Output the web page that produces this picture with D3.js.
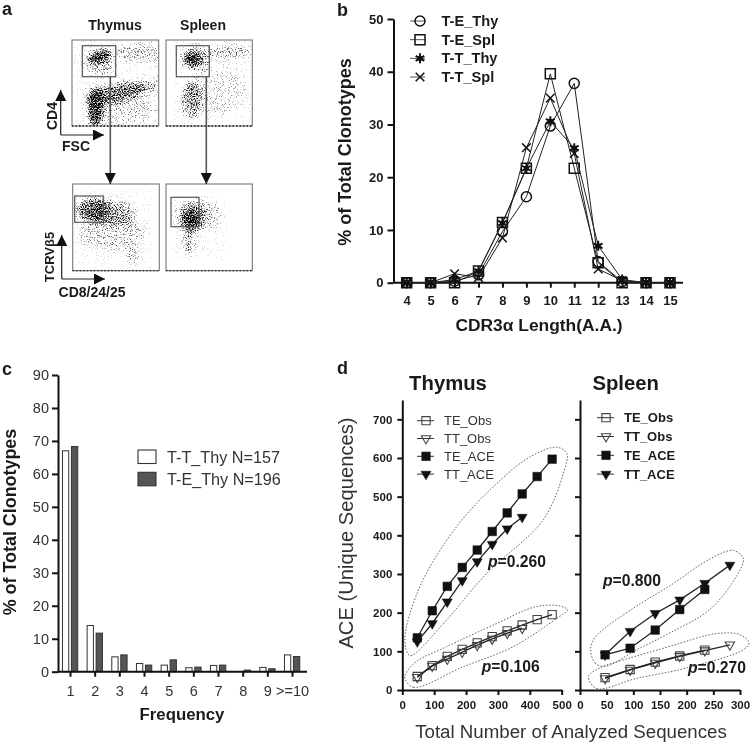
<!DOCTYPE html>
<html><head><meta charset="utf-8">
<script src="https://cdn.jsdelivr.net/npm/d3@7/dist/d3.min.js"></script>
<style>
html,body{margin:0;padding:0;background:#fff}
svg{display:block;filter:blur(0.5px)}
text{font-family:"Liberation Sans",Arial,sans-serif;fill:#1a1a1a}
</style></head><body><svg id="c" width="750" height="744"></svg>
<script>
// ---------- panel b data
const lengths=[4,5,6,7,8,9,10,11,12,13,14,15];
const bTEThy=[0,0,0.3,1.5,9.7,16.3,29.7,37.8,4,0.2,0,0];
const bTESpl=[0,0,0,2.2,11.4,21.7,39.6,21.7,3.8,0,0,0];
const bTTThy=[0,0,0.6,2.2,11.3,21.7,30.6,25.5,7,0.6,0,0];
const bTTSpl=[0,0,1.7,1.0,8.5,25.6,35,24.5,2.6,0.4,0,0];
const bNames=["T-E_Thy","T-E_Spl","T-T_Thy","T-T_Spl"];
// ---------- panel c data
const freqCats=["1","2","3","4","5","6","7","8","9",">=10"];
const cTT=[67,14,4.5,2.5,2,1.2,1.9,0,1.3,5.1];
const cTE=[68.3,11.7,5.1,2,3.6,1.4,2,0.5,0.9,4.6];
const cNames=["T-T_Thy N=157","T-E_Thy N=196"];
// ---------- panel d data
const thyX=[47,94,141,188,235,282,329,376,423,470];
const thyTEObs=[35,63,87,105,122,138,153,168,182,195];
const thyTTObs=[33,62,80,98,116,132,147,160];
const thyTEACE=[135,205,268,317,362,410,458,507,552,597];
const thyTTACE=[125,172,228,283,332,377,417,447];
const splX=[47,94,141,187,234,281];
const splTEObs=[32,53,72,88,103];
const splTTObs=[30,52,70,87,102,117];
const splTEACE=[91,108,155,208,260];
const splTTACE=[91,152,198,233,276,323];
const dNames=["TE_Obs","TT_Obs","TE_ACE","TT_ACE"];
const thyHullUpper=[[24,89],[129,172],[265,302],[442,440],[505,560],[516,612],[484,628],[401,603],[296,534],[170,422],[55,267],[8,129]];
const thyHullLower=[[8,30],[35,7],[191,60],[348,112],[484,185],[518,207],[495,217],[421,216],[296,172],[139,112],[45,74],[11,43]];
const splHullUpper=[[20,104],[28,70],[47,61],[106,104],[169,148],[244,209],[294,296],[306,339],[288,361],[244,339],[169,270],[106,217],[44,157],[25,130]];
const splHullLower=[[16,35],[31,4],[106,30],[200,57],[306,104],[317,122],[300,143],[256,146],[169,113],[94,83],[37,57]];
// ---------- panel a: density regions [cx, cy, rx, ry, rotation, density], in % of plot box
const cloudsThyTop=[[63,81,34,18,0,.26],[32,27,17,15,0,.4],[78,15,28,10,0,.36],[50,62,36,11,-12,.72],[88,54,16,8,-8,.45],[27,78,9,24,0,1],[32,19,14,7,-20,1]];
const cloudsSplTop=[[59,58,34,30,0,.2],[74,14,26,8,0,.4],[30,70,12,22,0,.55],[35,21,17,13,0,.5],[30,23,10,9,0,1]];
const cloudsThyBot=[[45,57,38,20,0,.3],[70,82,6,11,0,.42],[47,34,27,15,0,.5],[24,30,19,14,0,.78]];
const cloudsSplBot=[[47,36,18,16,0,.28],[26,68,7,13,0,.55],[30,38,18,18,0,.5],[29,42,9,14,0,1]];

const svg=d3.select("#c");
const F="Liberation Sans";
function label(x,y,t,size,bold,anchor,rot){
  const s=svg.append("text").attr("x",x).attr("y",y).attr("font-size",size).attr("font-weight",bold?"bold":"normal")
   .attr("text-anchor",anchor||"middle").text(t);
  if(rot)s.attr("transform",`rotate(${rot} ${x} ${y})`);
  return s;
}
function styleAxis(g,w,size,bold,col){
  g.selectAll("path,line").attr("stroke","#111").attr("stroke-width",w);
  g.selectAll("text").attr("font-size",size).attr("font-weight",bold?"bold":"normal")
   .style("fill",col||"#1a1a1a").attr("font-family",F);
}
const defs=svg.append("defs");
defs.append("marker").attr("id","ah").attr("viewBox","0 0 10 10").attr("refX",10).attr("refY",5)
 .attr("markerWidth",11).attr("markerHeight",11).attr("markerUnits","userSpaceOnUse").attr("orient","auto")
 .append("path").attr("d","M0,0L10,5L0,10Z").attr("fill","#111");
const fl=defs.append("filter").attr("id","stip").attr("x","-10%").attr("y","-10%").attr("width","120%").attr("height","120%")
 .attr("color-interpolation-filters","sRGB");
fl.append("feGaussianBlur").attr("in","SourceGraphic").attr("stdDeviation",3).attr("result","soft");
fl.append("feTurbulence").attr("type","fractalNoise").attr("baseFrequency",0.85).attr("numOctaves",2).attr("seed",7).attr("result","n");
fl.append("feColorMatrix").attr("in","n").attr("type","matrix")
 .attr("values","0 0 0 0 0  0 0 0 0 0  0 0 0 0 0  2.4 0 0 0 -0.7").attr("result","na");
fl.append("feComposite").attr("in","soft").attr("in2","na").attr("operator","arithmetic")
 .attr("k1",0).attr("k2",1).attr("k3",1).attr("k4",-0.9).attr("result","mix");
fl.append("feComponentTransfer").attr("in","mix").attr("result","tone").append("feFuncA").attr("type","linear").attr("slope",1.5);
fl.append("feGaussianBlur").attr("in","tone").attr("stdDeviation",0.3);

// ---------- PANEL A
function flow(x0,x1,y0,y1,clouds,gate,id){
  const px=d3.scaleLinear().domain([0,100]).range([x0,x1]);
  const py=d3.scaleLinear().domain([0,100]).range([y0,y1]);
  defs.append("clipPath").attr("id",id).append("rect").attr("x",x0).attr("y",y0).attr("width",x1-x0).attr("height",y1-y0);
  const g=svg.append("g").attr("clip-path",`url(#${id})`).append("g").attr("filter","url(#stip)");
  g.selectAll("ellipse").data(clouds).join("ellipse")
   .attr("cx",d=>px(d[0])).attr("cy",d=>py(d[1]))
   .attr("rx",d=>px(d[2])-px(0)).attr("ry",d=>py(d[3])-py(0))
   .attr("transform",d=>`rotate(${d[4]} ${px(d[0])} ${py(d[1])})`)
   .attr("fill","#000").attr("fill-opacity",d=>d[5]);
  svg.append("rect").attr("x",x0).attr("y",y0).attr("width",x1-x0).attr("height",y1-y0)
   .attr("fill","none").attr("stroke","#777").attr("stroke-width",1.1);
  svg.append("line").attr("x1",x0).attr("x2",x1).attr("y1",y1).attr("y2",y1).attr("stroke","#222").attr("stroke-width",1.3).attr("stroke-dasharray","1.5 2");
  svg.append("rect").attr("x",gate[0]).attr("y",gate[1]).attr("width",gate[2]-gate[0]).attr("height",gate[3]-gate[1])
   .attr("fill","none").attr("stroke","#555").attr("stroke-width",1.2);
}
flow(72,158.7,40,126,cloudsThyTop,[82.3,45.7,115.7,76.7],"p1");
flow(166,252.3,40,126,cloudsSplTop,[176.3,45.7,209.3,76.7],"p2");
flow(72.7,159.3,184,270.7,cloudsThyBot,[74.7,196,103.3,222.3],"p3");
flow(166,252.3,184,270.7,cloudsSplBot,[171,197.3,199,226.7],"p4");
function arrow(x1,y1,x2,y2,col,w){
  svg.append("line").attr("x1",x1).attr("y1",y1).attr("x2",x2).attr("y2",y2).attr("stroke",col||"#222").attr("stroke-width",w||1.2).attr("marker-end","url(#ah)");
}
arrow(110.3,76.7,110.3,184,"#555",1.6);arrow(206.3,76.7,206.3,184,"#555",1.6);
arrow(60.7,135,60.7,90);arrow(60.7,135,104,135);
arrow(61.7,279,61.7,235);arrow(61.7,279,105,279);
label(2,15,"a",18,true,"start");
label(115,30,"Thymus",14,true);label(203,30,"Spleen",14,true);
label(57,116,"CD4",14,true,"middle",-90);
label(76,151,"FSC",14,true);
label(54,257,"TCRVβ5",13,true,"middle",-90);
label(92,297,"CD8/24/25",14,true);

// ---------- PANEL B
const bx=d3.scaleLinear().domain([4,15]).range([406.7,670]);
const by=d3.scaleLinear().domain([0,50]).range([282.7,19]);
const bxa=svg.append("g").attr("transform","translate(0,282.7)").call(d3.axisBottom(bx).tickValues(lengths).tickFormat(d3.format("d")).tickSize(5).tickPadding(8).tickSizeOuter(0));
styleAxis(bxa,2,13,true);
bxa.select("path").attr("d","M393.5,0H683");
const bya=svg.append("g").attr("transform","translate(393.5,0)").call(d3.axisLeft(by).tickValues([0,10,20,30,40,50]).tickSize(6).tickPadding(4).tickSizeOuter(0));
styleAxis(bya,2,13,true);
const bSeries=[bTEThy,bTESpl,bTTThy,bTTSpl];
const bSym=[d3.symbolCircle,d3.symbolSquare,d3.symbolAsterisk,d3.symbolTimes];
const bSz=[80,100,70,50];
const bLine=d3.line().x((d,i)=>bx(lengths[i])).y(d=>by(d));
function bMark(g,k,x,y){
  g.append("path").attr("d",d3.symbol(bSym[k],bSz[k])()).attr("transform",`translate(${x},${y})`)
   .attr("fill","none").attr("stroke","#111").attr("stroke-width",k==2?2:1.5);
  if(k==2)g.append("circle").attr("cx",x).attr("cy",y).attr("r",2.6).attr("fill","#111");
}
bSeries.forEach((s,k)=>{
  svg.append("path").attr("d",bLine(s)).attr("fill","none").attr("stroke","#222").attr("stroke-width",1);
  const g=svg.append("g");
  s.forEach((v,i)=>bMark(g,k,bx(lengths[i]),by(v)));
});
const bLegY=d3.scalePoint().domain(bNames).range([21,77]);
bNames.forEach((n,k)=>{
  const y=bLegY(n);
  svg.append("line").attr("x1",410).attr("x2",425).attr("y1",y).attr("y2",y).attr("stroke","#555").attr("stroke-width",1);
  bMark(svg.append("g"),k,420,y);
  label(441.5,y+5,n,14.6,true,"start");
});
label(337,16,"b",18,true,"start");
label(351,152,"% of Total Clonotypes",18,true,"middle",-90);
label(539,331,"CDR3α Length(A.A.)",17.4,true);

// ---------- PANEL C
const cxs=d3.scalePoint().domain(freqCats).range([70,292]);
const cy=d3.scaleLinear().domain([0,90]).range([671.7,375]);
const barW=6.3;
[[cTT,-4.4,"#fff"],[cTE,4.6,"#555"]].forEach(([vals,off,col])=>{
  svg.append("g").selectAll("rect").data(vals).join("rect")
   .attr("x",(d,i)=>cxs(freqCats[i])+off-barW/2).attr("y",d=>cy(d)).attr("width",barW).attr("height",d=>cy(0)-cy(d))
   .attr("fill",col).attr("stroke","#333").attr("stroke-width",1);
});
const cxa=svg.append("g").attr("transform","translate(0,671.7)").call(d3.axisBottom(cxs).tickSize(5).tickPadding(9).tickSizeOuter(0));
styleAxis(cxa,2,14.5,false,"#333");
cxa.select("path").attr("d","M58,0H307");
const cya=svg.append("g").attr("transform","translate(58,0)").call(d3.axisLeft(cy).tickValues(d3.range(0,91,10)).tickSize(6).tickPadding(3).tickSizeOuter(0));
styleAxis(cya,2,14.5,false,"#333");
cNames.forEach((n,k)=>{
  const y=450+k*22.3;
  svg.append("rect").attr("x",138).attr("y",y).attr("width",18).attr("height",13.5).attr("fill",k?"#555":"#fff").attr("stroke","#333").attr("stroke-width",1.1);
  label(167,y+12.5,n,16.2,false,"start").style("fill","#333");
});
label(2,375,"c",18,true,"start");
label(16,522,"% of Total Clonotypes",17.9,true,"middle",-90);
label(182,720,"Frequency",16.8,true);

// ---------- PANEL D
const tx=d3.scaleLinear().domain([0,500]).range([402.3,561.7]);
const sx=d3.scaleLinear().domain([0,300]).range([580,740]);
const dy=d3.scaleLinear().domain([0,750]).range([690,400]);
const dTicks=d3.range(0,701,100);
const hull=d3.line().curve(d3.curveCatmullRomClosed.alpha(.5));
function dPanel(x,xTicks,series,hulls,legX,legBold,showY){
  const xa=svg.append("g").attr("transform","translate(0,690)").call(d3.axisBottom(x).tickValues(xTicks).tickSize(5).tickPadding(6).tickSizeOuter(0));
  styleAxis(xa,2,11.5,true);
  const ya=svg.append("g").attr("transform",`translate(${x(0)},0)`).call(d3.axisLeft(dy).tickValues(dTicks).tickSize(5).tickPadding(5).tickSizeOuter(0));
  styleAxis(ya,2,11.5,true);
  if(!showY)ya.selectAll("text").remove();
  hulls.forEach(h=>{
    svg.append("path").attr("d",hull.x(d=>x(d[0])).y(d=>dy(d[1]))(h)).attr("fill","none")
     .attr("stroke","#666").attr("stroke-width",1).attr("stroke-dasharray","1.6 1.6");
  });
  series.forEach(s=>{
    const l=d3.line().x((d,i)=>x(s.xs[i])).y(d=>dy(d));
    svg.append("path").attr("d",l(s.v)).attr("fill","none").attr("stroke","#222").attr("stroke-width",1.3);
    s.v.forEach((v,i)=>dMark(s.k,x(s.xs[i]),dy(v)));
  });
  dNames.forEach((n,k)=>{
    const y=legBold?417.7+k*18.8:420.7+k*17.8;
    svg.append("line").attr("x1",legX).attr("x2",legX+17).attr("y1",y).attr("y2",y).attr("stroke","#333").attr("stroke-width",1);
    dMark(k,legX+9,y);
    label(legX+27,y+4.5,n,13,legBold,"start").style("fill",legBold?"#1a1a1a":"#333");
  });
}
function dMark(k,x,y){
  const tri=k%2==1;
  const open=k<2;
  svg.append("path").attr("d",d3.symbol(tri?d3.symbolTriangle:d3.symbolSquare,tri?(open?38:42):(open?68:72))())
   .attr("transform",`translate(${x},${y})${tri?" rotate(180)":""}`)
   .attr("fill",open?"none":"#111").attr("stroke",open?"#444":"#111").attr("stroke-width",open?1.1:.6);
}
dPanel(tx,[0,100,200,300,400,500],[
  {k:0,xs:thyX,v:thyTEObs},{k:1,xs:thyX,v:thyTTObs},{k:2,xs:thyX,v:thyTEACE},{k:3,xs:thyX,v:thyTTACE}
],[thyHullUpper,thyHullLower],417,false,true);
dPanel(sx,[0,50,100,150,200,250,300],[
  {k:0,xs:splX,v:splTEObs},{k:1,xs:splX,v:splTTObs},{k:2,xs:splX,v:splTEACE},{k:3,xs:splX,v:splTTACE}
],[splHullUpper,splHullLower],597,true,false);
label(337,374,"d",18,true,"start");
label(448,390,"Thymus",20.3,true);
label(625.7,390,"Spleen",20.3,true);
label(353,533,"ACE (Unique Sequences)",20.2,false,"middle",-90).style("fill","#333");
label(571,738,"Total Number of Analyzed Sequences",18.7,false).style("fill","#333");
function pval(x,y,v){
  const t=label(x,y,"",15.7,true,"start");
  t.append("tspan").attr("font-style","italic").text("p");
  t.append("tspan").text("="+v);
}
pval(488,567,"0.260");pval(481.7,672,"0.106");pval(603,585.7,"0.800");pval(688,673,"0.270");
</script></body></html>
